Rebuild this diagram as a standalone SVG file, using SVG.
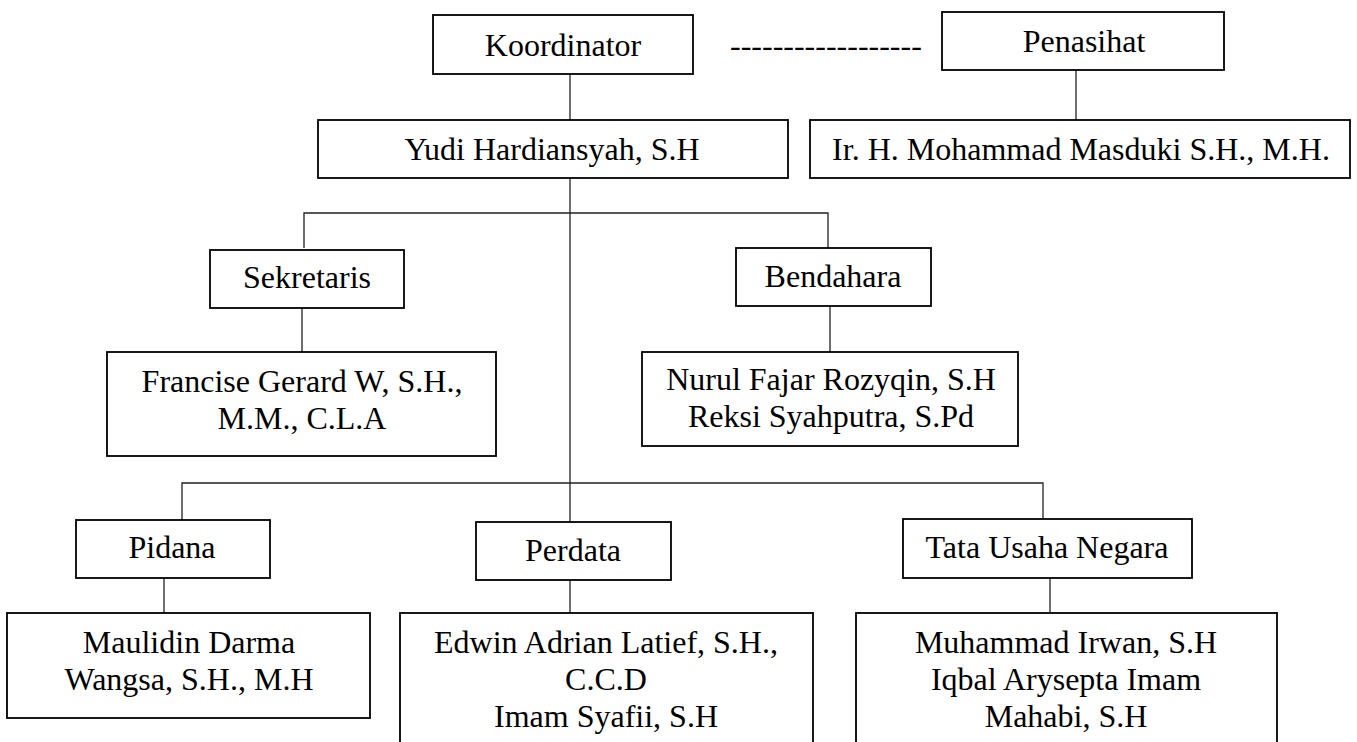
<svg xmlns="http://www.w3.org/2000/svg" width="1357" height="742" viewBox="0 0 1357 742">
<style>
.box{fill:#fff;stroke:#000;stroke-width:1.8}
.t{font-family:"Liberation Serif","Times New Roman",serif;font-size:32px;fill:#000;text-anchor:middle}
.c{stroke:#222;stroke-width:1.3;fill:none}
</style>
<rect width="1357" height="742" fill="#fff"/>
<g id="connectors">
<line class="c" x1="570" y1="74" x2="570" y2="120"/>
<line class="c" x1="1076" y1="70" x2="1076" y2="120"/>
<line class="c" x1="570" y1="178" x2="570" y2="522"/>
<polyline class="c" points="304,248 304,213 828,213 828,248"/>
<line class="c" x1="302" y1="308" x2="302" y2="352"/>
<line class="c" x1="830" y1="306" x2="830" y2="352"/>
<polyline class="c" points="182,520 182,483 1043,483 1043,518"/>
<line class="c" x1="164" y1="578" x2="164" y2="613"/>
<line class="c" x1="570" y1="580" x2="570" y2="613"/>
<line class="c" x1="1050" y1="578" x2="1050" y2="612"/>
<text class="t" x="730" y="56" style="text-anchor:start">------------------</text>
</g>
<g id="koordinator"><rect class="box" x="433" y="15" width="260" height="59"/><text class="t" x="563" y="56">Koordinator</text></g>
<g id="penasihat"><rect class="box" x="942" y="12" width="282" height="58"/><text class="t" x="1084" y="52">Penasihat</text></g>
<g id="yudi"><rect class="box" x="318" y="120" width="470" height="58"/><text class="t" x="552" y="160">Yudi Hardiansyah, S.H</text></g>
<g id="masduki"><rect class="box" x="810" y="120" width="540" height="58"/><text class="t" x="1081" y="160">Ir. H. Mohammad Masduki S.H., M.H.</text></g>
<g id="sekretaris"><rect class="box" x="210" y="250" width="194" height="58"/><text class="t" x="307" y="288">Sekretaris</text></g>
<g id="bendahara"><rect class="box" x="736" y="248" width="195" height="58"/><text class="t" x="833" y="287">Bendahara</text></g>
<g id="francise"><rect class="box" x="107" y="352" width="389" height="104"/><text class="t" x="302" y="392">Francise Gerard W, S.H.,</text><text class="t" x="302" y="429">M.M., C.L.A</text></g>
<g id="nurul"><rect class="box" x="642" y="352" width="376" height="94"/><text class="t" x="831" y="390">Nurul Fajar Rozyqin, S.H</text><text class="t" x="831" y="427">Reksi Syahputra, S.Pd</text></g>
<g id="pidana"><rect class="box" x="76" y="520" width="194" height="58"/><text class="t" x="172" y="558">Pidana</text></g>
<g id="perdata"><rect class="box" x="476" y="522" width="195" height="58"/><text class="t" x="573" y="561">Perdata</text></g>
<g id="tun"><rect class="box" x="903" y="519" width="289" height="59"/><text class="t" x="1047" y="558">Tata Usaha Negara</text></g>
<g id="maulidin"><rect class="box" x="7" y="613" width="363" height="105"/><text class="t" x="189" y="653">Maulidin Darma</text><text class="t" x="189" y="690">Wangsa, S.H., M.H</text></g>
<g id="edwin"><rect class="box" x="400" y="613" width="413" height="160"/><text class="t" x="606" y="653">Edwin Adrian Latief, S.H.,</text><text class="t" x="606" y="690">C.C.D</text><text class="t" x="606" y="727">Imam Syafii, S.H</text></g>
<g id="irwan"><rect class="box" x="856" y="613" width="421" height="160"/><text class="t" x="1066" y="653">Muhammad Irwan, S.H</text><text class="t" x="1066" y="690">Iqbal Arysepta Imam</text><text class="t" x="1066" y="727">Mahabi, S.H</text></g>
</svg>
